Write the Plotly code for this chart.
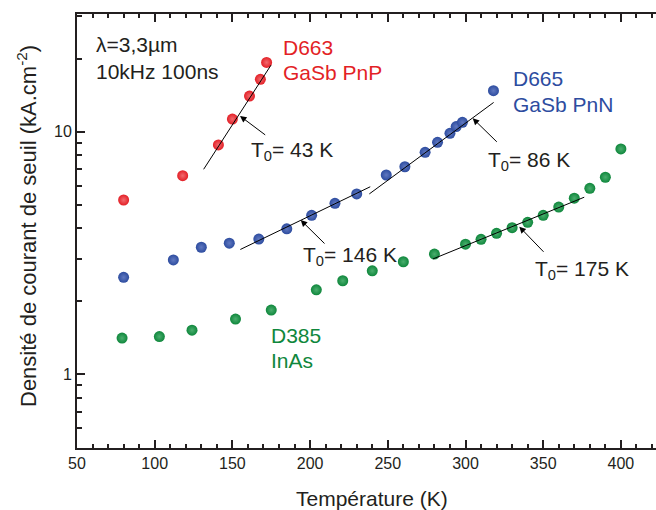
import plotly.graph_objects as go

# ---------------- data ----------------
t_d663 = [80, 118, 141, 150, 161, 168, 172]
j_d663 = [5.23, 6.59, 8.82, 11.28, 14.03, 16.44, 19.3]

t_d665 = [80, 112, 130, 148, 167, 185, 201, 216, 230, 249, 261, 274, 282, 290, 294, 298, 318]
j_d665 = [2.51, 2.96, 3.34, 3.47, 3.61, 3.98, 4.52, 5.07, 5.54, 6.63, 7.17, 8.22, 9.04, 9.85, 10.5, 10.93, 14.76]

t_d385 = [79, 103, 124, 152, 175, 204, 221, 240, 260, 280, 300, 310, 320, 330, 340, 350, 360, 370, 380, 390, 400]
j_d385 = [1.41, 1.43, 1.52, 1.69, 1.84, 2.23, 2.43, 2.67, 2.91, 3.13, 3.44, 3.60, 3.81, 4.02, 4.23, 4.52, 4.89, 5.32, 5.84, 6.49, 8.49]

# exponential fits J = J0 exp(T/T0) (end points)
fit_t_43 = [131.5, 174.8]
fit_j_43 = [7.0, 18.8]
fit_t_146 = [155.1, 238.7]
fit_j_146 = [3.27, 5.93]
fit_t_86 = [238.1, 318.1]
fit_j_86 = [5.54, 13.2]
fit_t_175 = [279.1, 376.4]
fit_j_175 = [2.99, 5.37]

x_ticks = [50, 100, 150, 200, 250, 300, 350, 400]
y_ticks = [1, 10]
y_ticktext = ["1", "10"]
y_minor = [0.6, 0.7, 0.8, 0.9, 2, 3, 4, 5, 6, 7, 8, 9, 20, 30]

# ---------------- style ----------------
W, H = 656, 510
ML, MR, MT, MB = 77, 0, 14, 62
PW, PH = W - ML - MR, H - MT - MB
INK = "#231f20"
FONT = "Liberation Sans, Arial, sans-serif"
RED, BLUE, GREEN = "#e31f26", "#2d4c9f", "#0f873c"
RED_HI, BLUE_HI, GREEN_HI = "#f26a6e", "#6078c0", "#4aae6e"


def px(x, y):
    """pixel position in the 656x510 image -> paper coordinates"""
    return (x - ML) / PW, (H - MB - y) / PH


fig = go.Figure()


def pts(t, j, c, hi):
    fig.add_trace(go.Scatter(
        x=t, y=j, mode="markers",
        marker=dict(size=11, color=c, line=dict(width=0),
                    gradient=dict(type="radial", color=hi)),
        showlegend=False, hoverinfo="x+y"))


pts(t_d663, j_d663, RED, RED_HI)
pts(t_d665, j_d665, BLUE, BLUE_HI)
pts(t_d385, j_d385, GREEN, GREEN_HI)

for ft, fj in [(fit_t_43, fit_j_43), (fit_t_146, fit_j_146),
               (fit_t_86, fit_j_86), (fit_t_175, fit_j_175)]:
    fig.add_trace(go.Scatter(x=ft, y=fj, mode="lines",
                             line=dict(color="black", width=1),
                             showlegend=False, hoverinfo="skip"))

ann = []


def text(x, y, s, color=INK, size=21, anchor="left"):
    xp, yp = px(x, y)
    ann.append(dict(x=xp, y=yp, xref="paper", yref="paper", text=s,
                    showarrow=False, xanchor=anchor, yanchor="middle",
                    font=dict(family=FONT, size=size, color=color)))


def arrow(hx, hy, tx, ty):
    xp, yp = px(hx, hy)
    ann.append(dict(x=xp, y=yp, xref="paper", yref="paper", text="",
                    showarrow=True, ax=tx - hx, ay=ty - hy,
                    arrowhead=2, arrowsize=1.3, arrowwidth=1,
                    arrowcolor="black"))


text(94, 44, "λ=3,3µm")
text(94, 71, "10kHz 100ns")
text(281, 47.7, "D663", RED)
text(281, 72.7, "GaSb PnP", RED)
text(510.5, 79, "D665", BLUE)
text(510.5, 104.3, "GaSb PnN", BLUE)
text(269, 335, "D385", GREEN)
text(269, 360, "InAs", GREEN)

text(249, 151, "T<sub>0</sub>= 43 K")
text(486, 161, "T<sub>0</sub>= 86 K")
text(300.5, 256, "T<sub>0</sub>= 146 K")
text(532.5, 270, "T<sub>0</sub>= 175 K")

arrow(240, 116, 266.7, 136)
arrow(472.7, 118.3, 498.3, 143.3)
arrow(300.7, 220, 326, 245)
arrow(519.3, 226.7, 545, 253.3)

# axis titles
xp, yp = px(371.5, 498)
ann.append(dict(x=xp, y=yp, xref="paper", yref="paper", text="Température (K)",
                showarrow=False, xanchor="center", yanchor="middle",
                font=dict(family=FONT, size=21, color=INK)))
xp, yp = px(27, 226)
ann.append(dict(x=xp, y=yp, xref="paper", yref="paper",
                text="Densité de courant de seuil (kA.cm<sup>-2</sup>)",
                textangle=-90, showarrow=False, xanchor="center", yanchor="middle",
                font=dict(family=FONT, size=22, color=INK)))

fig.update_layout(
    width=W, height=H,
    margin=dict(l=ML, r=MR, t=MT, b=MB, pad=0),
    paper_bgcolor="white", plot_bgcolor="white",
    font=dict(family=FONT, color=INK),
    annotations=ann,
    xaxis=dict(range=[50, 50 + PW / 1.554], tickvals=x_ticks,
               ticks="inside", ticklen=8, tickwidth=1.5, tickcolor=INK,
               showline=True, linecolor=INK, linewidth=2, mirror="allticks",
               showgrid=False, zeroline=False,
               tickfont=dict(family=FONT, size=16, color=INK),
               minor=dict(dtick=10, tick0=50, ticks="inside", ticklen=4,
                          tickwidth=1.5, tickcolor=INK, showgrid=False)),
    yaxis=dict(type="log", range=[-0.3038, 1.4852],
               tickmode="array", tickvals=y_ticks, ticktext=y_ticktext,
               ticks="inside", ticklen=8, tickwidth=1.5, tickcolor=INK,
               showline=True, linecolor=INK, linewidth=2, mirror=False,
               showgrid=False, zeroline=False,
               tickfont=dict(family=FONT, size=16, color=INK),
               minor=dict(tickmode="array", tickvals=y_minor, ticks="inside",
                          ticklen=5, tickwidth=1.5, tickcolor=INK,
                          showgrid=False)),
)

fig.write_html("out.html",
               config={"displayModeBar": False},
               post_script="document.body.style.margin='0px';"
                           "document.body.style.overflow='hidden';")
